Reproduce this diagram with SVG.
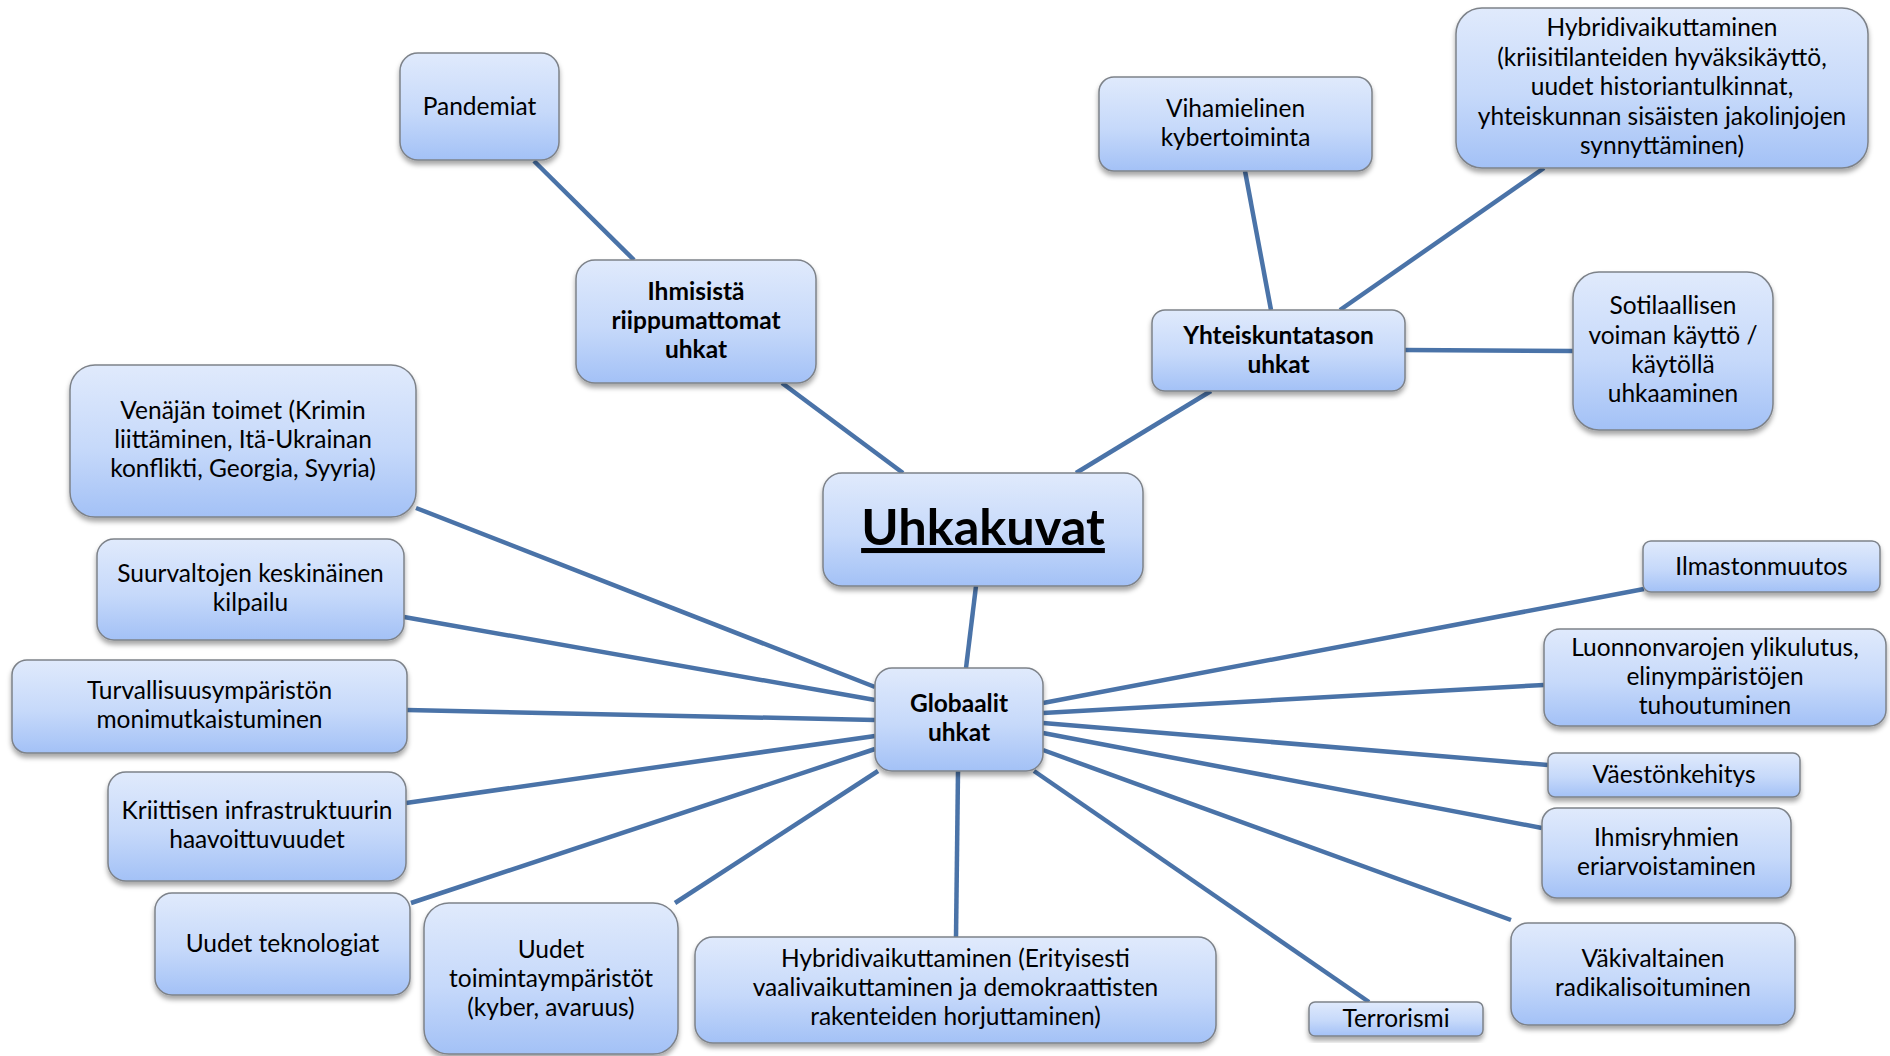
<svg xmlns="http://www.w3.org/2000/svg" width="1890" height="1056" viewBox="0 0 1890 1056">
  <defs>
    <linearGradient id="boxFill" x1="0" y1="0" x2="0" y2="1">
      <stop offset="0" stop-color="#e0eafc"/>
      <stop offset="0.55" stop-color="#c6d9fa"/>
      <stop offset="1" stop-color="#a3c1f6"/>
    </linearGradient>
    <filter id="shadow" x="-10%" y="-10%" width="120%" height="130%">
      <feDropShadow dx="0" dy="4" stdDeviation="2.5" flood-color="#000" flood-opacity="0.35"/>
    </filter>
  </defs>
  <style>
    .box { fill: url(#boxFill); stroke: #7d8289; stroke-width: 1.5; filter: url(#shadow); }
    .lbl { font-family: Lato, "Open Sans", "Liberation Sans", sans-serif; font-size: 24.5px; fill: #000; text-anchor: middle; }
    .bold { font-weight: bold; }
    .title { font-family: Lato, "Open Sans", "Liberation Sans", sans-serif; font-size: 50.5px; font-weight: bold; fill: #000; text-anchor: middle; }
    .edge { stroke: #4a73a8; stroke-width: 4.5; fill: none; stroke-linecap: butt; }
  </style>
  <rect width="1890" height="1056" fill="#fff"/>

  <g id="connectors">
    <line class="edge" x1="534" y1="161" x2="634" y2="260"/>
    <line class="edge" x1="782" y1="383" x2="903" y2="473"/>
    <line class="edge" x1="1211" y1="391" x2="1076" y2="473"/>
    <line class="edge" x1="1245" y1="171" x2="1271" y2="310"/>
    <line class="edge" x1="1544" y1="168" x2="1340" y2="310"/>
    <line class="edge" x1="1405" y1="350" x2="1573" y2="351"/>
    <line class="edge" x1="976" y1="586" x2="966" y2="668"/>
    <line class="edge" x1="416" y1="508" x2="875" y2="687"/>
    <line class="edge" x1="404" y1="617" x2="875" y2="700"/>
    <line class="edge" x1="407" y1="710" x2="875" y2="720"/>
    <line class="edge" x1="406" y1="803" x2="875" y2="736"/>
    <line class="edge" x1="411" y1="903" x2="875" y2="749"/>
    <line class="edge" x1="675" y1="903" x2="878" y2="771"/>
    <line class="edge" x1="958" y1="771" x2="956" y2="937"/>
    <line class="edge" x1="1034" y1="771" x2="1369" y2="1002"/>
    <line class="edge" x1="1043" y1="750" x2="1511" y2="920"/>
    <line class="edge" x1="1043" y1="733" x2="1542" y2="828"/>
    <line class="edge" x1="1043" y1="723" x2="1548" y2="765"/>
    <line class="edge" x1="1043" y1="713" x2="1544" y2="685"/>
    <line class="edge" x1="1043" y1="703" x2="1644" y2="589"/>
  </g>

  <g id="uhkakuvat">
    <rect class="box" x="823" y="473" width="320" height="113" rx="19"/>
    <text class="title" x="983" y="545" text-decoration="underline">Uhkakuvat</text>
  </g>

  <g id="ihmisista-riippumattomat">
    <rect class="box" x="576" y="260" width="240" height="123" rx="19"/>
    <text class="lbl bold" x="696" y="300">Ihmisistä</text>
    <text class="lbl bold" x="696" y="329">riippumattomat</text>
    <text class="lbl bold" x="696" y="358">uhkat</text>
  </g>

  <g id="pandemiat">
    <rect class="box" x="400" y="53" width="159" height="107" rx="18"/>
    <text class="lbl" x="479.5" y="115">Pandemiat</text>
  </g>

  <g id="yhteiskuntatason">
    <rect class="box" x="1152" y="310" width="253" height="81" rx="13"/>
    <text class="lbl bold" x="1278.5" y="344">Yhteiskuntatason</text>
    <text class="lbl bold" x="1278.5" y="373">uhkat</text>
  </g>

  <g id="vihamielinen">
    <rect class="box" x="1099" y="77" width="273" height="94" rx="15"/>
    <text class="lbl" x="1235.5" y="117">Vihamielinen</text>
    <text class="lbl" x="1235.5" y="146">kybertoiminta</text>
  </g>

  <g id="hybridi-yhteiskunta">
    <rect class="box" x="1456" y="8" width="412" height="160" rx="26"/>
    <text class="lbl" x="1662" y="36">Hybridivaikuttaminen</text>
    <text class="lbl" x="1662" y="66">(kriisitilanteiden hyväksikäyttö,</text>
    <text class="lbl" x="1662" y="95">uudet historiantulkinnat,</text>
    <text class="lbl" x="1662" y="125">yhteiskunnan sisäisten jakolinjojen</text>
    <text class="lbl" x="1662" y="154">synnyttäminen)</text>
  </g>

  <g id="sotilaallinen">
    <rect class="box" x="1573" y="272" width="200" height="158" rx="26"/>
    <text class="lbl" x="1673" y="314">Sotilaallisen</text>
    <text class="lbl" x="1673" y="344">voiman käyttö /</text>
    <text class="lbl" x="1673" y="373">käytöllä</text>
    <text class="lbl" x="1673" y="402">uhkaaminen</text>
  </g>

  <g id="globaalit">
    <rect class="box" x="875" y="668" width="168" height="103" rx="17"/>
    <text class="lbl bold" x="959" y="712">Globaalit</text>
    <text class="lbl bold" x="959" y="741">uhkat</text>
  </g>

  <g id="venaja">
    <rect class="box" x="70" y="365" width="346" height="152" rx="25"/>
    <text class="lbl" x="243" y="419">Venäjän toimet (Krimin</text>
    <text class="lbl" x="243" y="448">liittäminen, Itä-Ukrainan</text>
    <text class="lbl" x="243" y="477">konflikti, Georgia, Syyria)</text>
  </g>

  <g id="suurvallat">
    <rect class="box" x="97" y="539" width="307" height="101" rx="17"/>
    <text class="lbl" x="250.5" y="582">Suurvaltojen keskinäinen</text>
    <text class="lbl" x="250.5" y="611">kilpailu</text>
  </g>

  <g id="turvallisuusymparisto">
    <rect class="box" x="12" y="660" width="395" height="93" rx="15"/>
    <text class="lbl" x="209.5" y="699">Turvallisuusympäristön</text>
    <text class="lbl" x="209.5" y="728">monimutkaistuminen</text>
  </g>

  <g id="infrastruktuuri">
    <rect class="box" x="108" y="772" width="298" height="109" rx="18"/>
    <text class="lbl" x="257" y="819">Kriittisen infrastruktuurin</text>
    <text class="lbl" x="257" y="848">haavoittuvuudet</text>
  </g>

  <g id="teknologiat">
    <rect class="box" x="155" y="893" width="255" height="102" rx="17"/>
    <text class="lbl" x="282.5" y="952">Uudet teknologiat</text>
  </g>

  <g id="toimintaymparistot">
    <rect class="box" x="424" y="903" width="254" height="151" rx="25"/>
    <text class="lbl" x="551" y="958">Uudet</text>
    <text class="lbl" x="551" y="987">toimintaympäristöt</text>
    <text class="lbl" x="551" y="1016">(kyber, avaruus)</text>
  </g>

  <g id="hybridi-vaalit">
    <rect class="box" x="695" y="937" width="521" height="106" rx="18"/>
    <text class="lbl" x="955.5" y="967">Hybridivaikuttaminen (Erityisesti</text>
    <text class="lbl" x="955.5" y="996">vaalivaikuttaminen ja demokraattisten</text>
    <text class="lbl" x="955.5" y="1025">rakenteiden horjuttaminen)</text>
  </g>

  <g id="terrorismi">
    <rect class="box" x="1309" y="1002" width="174" height="34" rx="6"/>
    <text class="lbl" x="1396" y="1027">Terrorismi</text>
  </g>

  <g id="radikalisoituminen">
    <rect class="box" x="1511" y="923" width="284" height="102" rx="17"/>
    <text class="lbl" x="1653" y="967">Väkivaltainen</text>
    <text class="lbl" x="1653" y="996">radikalisoituminen</text>
  </g>

  <g id="eriarvoistaminen">
    <rect class="box" x="1542" y="808" width="249" height="90" rx="15"/>
    <text class="lbl" x="1666.5" y="846">Ihmisryhmien</text>
    <text class="lbl" x="1666.5" y="875">eriarvoistaminen</text>
  </g>

  <g id="vaestonkehitys">
    <rect class="box" x="1548" y="753" width="252" height="44" rx="7"/>
    <text class="lbl" x="1674" y="783">Väestönkehitys</text>
  </g>

  <g id="luonnonvarat">
    <rect class="box" x="1544" y="629" width="342" height="97" rx="16"/>
    <text class="lbl" x="1715" y="656">Luonnonvarojen ylikulutus,</text>
    <text class="lbl" x="1715" y="685">elinympäristöjen</text>
    <text class="lbl" x="1715" y="714">tuhoutuminen</text>
  </g>

  <g id="ilmastonmuutos">
    <rect class="box" x="1643" y="541" width="237" height="51" rx="8"/>
    <text class="lbl" x="1761.5" y="575">Ilmastonmuutos</text>
  </g>
</svg>
